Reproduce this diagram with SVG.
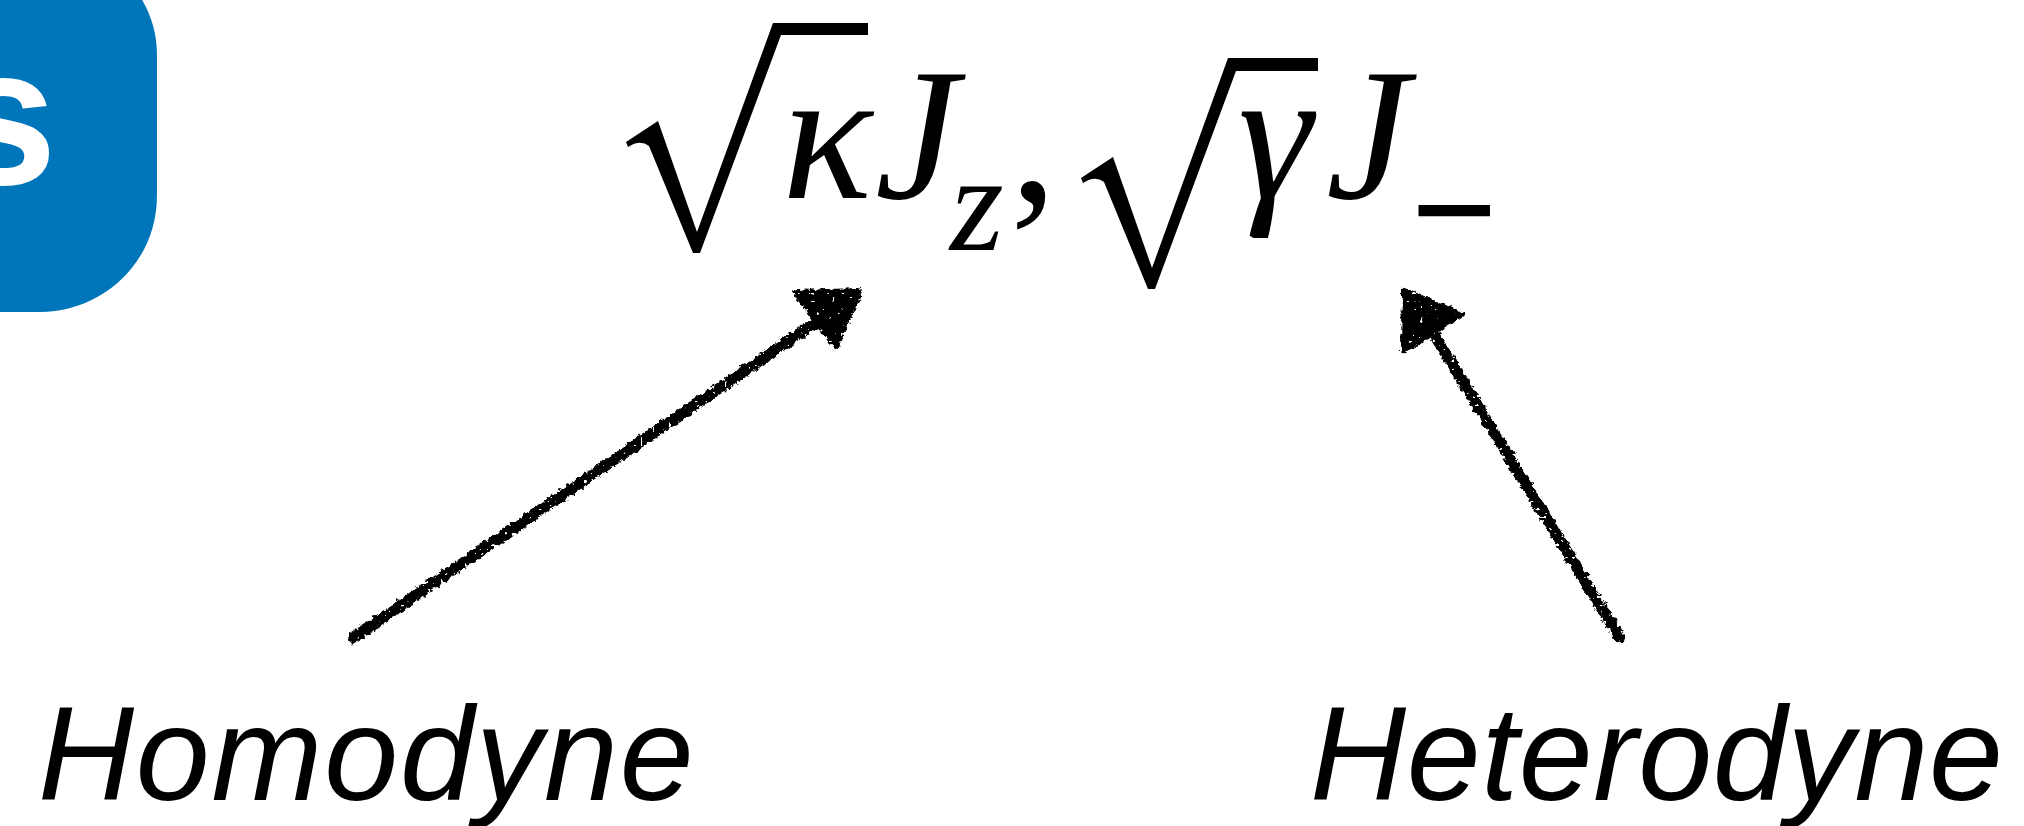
<svg xmlns="http://www.w3.org/2000/svg" width="2024" height="826" viewBox="0 0 2024 826">
  <defs>
    <style>
      .math { font-family: "Liberation Serif", "Times New Roman", serif; font-style: italic; fill: #000; }
      .up { font-family: "Liberation Serif", "Times New Roman", serif; fill: #000; }
      .label { font-family: "Liberation Sans", Arial, sans-serif; font-style: italic; font-size: 133px; fill: #000; }
      .rad { fill: #000; stroke: none; }
      .chalk { stroke: #000; stroke-width: 11; stroke-linecap: round; fill: none; }
      .chalkhead { fill: #000; stroke: #000; stroke-width: 6; stroke-linejoin: round; }
    </style>
    <filter id="rough" x="-10%" y="-10%" width="120%" height="120%">
      <feTurbulence type="fractalNoise" baseFrequency="0.22" numOctaves="3" seed="3" result="n"/>
      <feDisplacementMap in="SourceGraphic" in2="n" scale="7" xChannelSelector="R" yChannelSelector="G" result="d"/>
      <feTurbulence type="fractalNoise" baseFrequency="0.25" numOctaves="1" seed="11" result="n2"/>
      <feColorMatrix in="n2" type="matrix" values="0 0 0 0 0  0 0 0 0 0  0 0 0 0 0  -40 0 0 0 29" result="mask"/>
      <feComposite in="d" in2="mask" operator="in"/>
    </filter>
  </defs>

  <g id="badge">
    <path d="M-200,-60 L40,-60 C100,-60 157,-10 157,55 L157,195 C157,265 100,312 40,312 L-200,312 Z" fill="#0076BA"/>
    <text x="-52" y="184" font-family="Liberation Sans, Arial, sans-serif" font-weight="bold" font-size="196" fill="#fff">s</text>
  </g>

  <g id="formula">
    <path class="rad" d="M626,142 L658,121 L697,232 L773,23 L868,23 L868,35 L781,35 L700,253 L693,253 L649,146 Q640,139 628,147 Z"/>
    <text class="math" x="782" y="198" font-size="188">κ</text>
    <text class="math" x="875" y="198" font-size="188">J</text>
    <text class="math" x="950" y="250" font-size="138">z</text>
    <text class="up" x="1010" y="200" font-size="188">,</text>
    <path class="rad" d="M1081,178 L1113,157 L1152,268 L1228,58 L1318,58 L1318,71 L1236,71 L1155,289 L1148,289 L1104,182 Q1095,175 1083,183 Z"/>
    <text class="math" x="1238" y="198" font-size="188">γ</text>
    <text class="math" x="1326" y="198" font-size="188">J</text>
    <text class="math" x="1404" y="259" font-size="145" stroke="#000" stroke-width="4">−</text>
  </g>

  <g id="connectors" filter="url(#rough)">
    <line class="chalk" x1="353" y1="638" x2="822" y2="318"/>
    <polygon class="chalkhead" points="796,293 859,291 836,346"/>
    <line class="chalk" x1="1620" y1="638" x2="1433" y2="333"/>
    <polygon class="chalkhead" points="1405,291 1461,315 1404,350"/>
  </g>

  <g id="homodyne">
    <text class="label" x="38" y="800" letter-spacing="1.8">Homodyne</text>
  </g>
  <g id="heterodyne">
    <text class="label" x="1310" y="800" letter-spacing="0.6">Heterodyne</text>
  </g>
</svg>
